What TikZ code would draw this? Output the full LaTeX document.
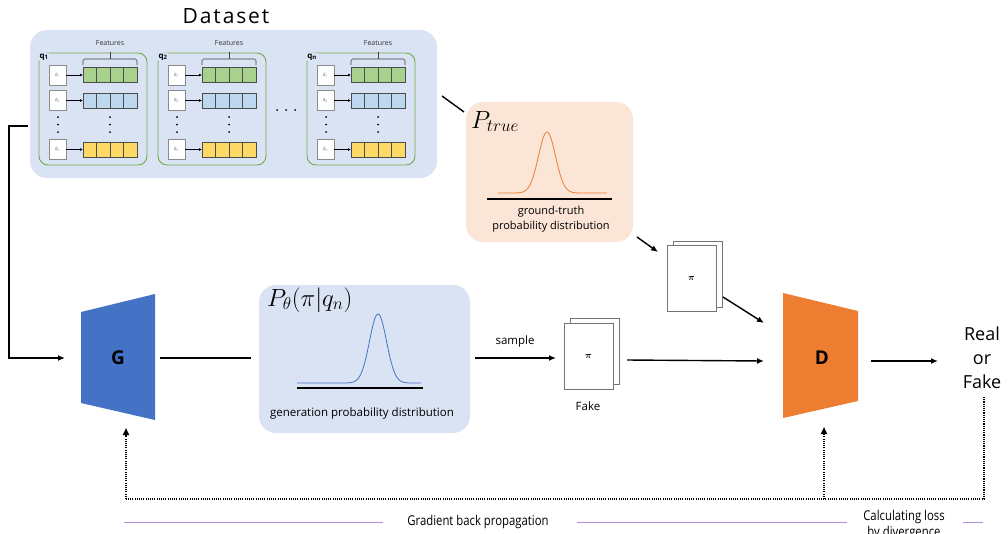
\documentclass[tikz,border=0pt]{standalone}
\usepackage{amsmath}
\usepackage{fontspec}
\setmainfont{Open Sans}
\newfontfamily\condfont[FakeStretch=0.84]{Open Sans}
\usetikzlibrary{arrows.meta}

\definecolor{boxblue}{HTML}{DAE3F3}
\definecolor{peach}{HTML}{FBE5D6}
\definecolor{gblue}{HTML}{4472C4}
\definecolor{dorange}{HTML}{ED7D31}
\definecolor{fgreen}{HTML}{A9D18E}
\definecolor{fblue}{HTML}{BDD7EE}
\definecolor{fyellow}{HTML}{FFD966}
\definecolor{grpgreen}{HTML}{70AD47}
\definecolor{legpurple}{HTML}{B48FE0}

\tikzset{
  ln/.style={line width=1.4pt},
  arr/.style={line width=1.4pt, -{Latex[length=7pt,width=6pt]}},
  smallarr/.style={line width=0.8pt, -{Latex[length=3pt,width=3pt]}},
  fb/.style={line width=1.7pt, dash pattern=on 1.1pt off 1.1pt},
  fbarr/.style={fb, -{Triangle[length=7pt,width=6pt]}},
  dbox/.style={draw=black!45, fill=white, minimum width=17pt, minimum height=20pt,
    inner sep=0pt, font=\fontsize{4.5}{5}\selectfont, text=black!60},
  cell/.style={draw=black!70, line width=0.6pt},
  page/.style={draw=black!55, fill=white, line width=0.8pt, minimum width=49pt,
    minimum height=66pt, inner sep=0pt},
  panel/.style={rounded corners=17pt, inner sep=0pt},
  lbl/.style={font=\fontsize{11.5}{14}\selectfont},
  leg/.style={font=\condfont\fontsize{13.5}{15}\selectfont, inner sep=0pt},
}

\begin{document}
\begin{tikzpicture}[x=1pt, y=-1pt]
\useasboundingbox (0,0) rectangle (1008,533);

% ---------- dataset panel ----------
\node[font=\addfontfeature{LetterSpace=9}\fontsize{21}{24}\selectfont] (dstitle) at (226,16) {Dataset};
\node[panel, fill=boxblue, minimum width=407pt, minimum height=148pt] (dataset) at (233.5,104) {};

\foreach \g/\dx/\q in {1/0/1, 2/119/2, 3/268/n} {
  \begin{scope}[xshift=\dx pt]
    % query group
    \draw[grpgreen, line width=0.9pt, rounded corners=9pt] (39,53) rectangle (147,165);
    \node[fill=boxblue, inner sep=0.8pt, font=\bfseries\fontsize{8}{9}\selectfont]
      (q\g) at (44,57) {q\textsubscript{\q}};
    % feature brace
    \draw[black!75, line width=0.6pt, rounded corners=1.5pt] (83,65) -- (83,59) -- (137,59) -- (137,65);
    \draw[black!75, line width=0.6pt] (110,59) -- (110,52);
    \node[font=\fontsize{7}{8}\selectfont, text=black!80] (feat\g) at (110,43) {Features};
    % documents and feature vectors
    \foreach \r/\yy/\lab/\col in {1/75/1/fgreen, 2/100.5/2/fblue, 3/149.5/n/fyellow} {
      \node[dbox] (d\r-\g) at (57.5,\yy) {d\textsubscript{\lab}};
      \foreach \c in {0,1,2,3} {
        \draw[cell, fill=\col] ({83+13.5*\c},{\yy-7.5}) rectangle ({96.5+13.5*\c},{\yy+7.5});
      }
      \coordinate (bar\r-\g) at (83,\yy);
      \draw[smallarr] (d\r-\g.east) -- (bar\r-\g);
    }
    % vertical ellipses
    \foreach \yy in {117,124.5,132} {
      \fill (58,\yy) circle (1pt);
      \fill (110,\yy) circle (1pt);
    }
  \end{scope}
}
% horizontal ellipsis between groups
\foreach \xx in {277,286,295} { \fill (\xx,110) circle (1pt); }

% ---------- ground-truth distribution ----------
\node[panel, fill=peach, minimum width=167pt, minimum height=140pt] (ptrue) at (549.5,172) {};
\node[anchor=base west, inner sep=0pt, font=\fontsize{23}{26}\selectfont] (ptruelbl) at (471,128) {$P_{true}$};
\draw[dorange, line width=0.8pt] plot[domain=498:607, samples=120]
  (\x, {193 - 61*exp(-((\x-547)^2)/(2*8.5^2))});
\draw[line width=1.6pt] (487,199) -- (612,199);
\node[align=center, font=\fontsize{11}{15}\selectfont] (ptruetxt) at (551,219)
  {ground-truth\\probability distribution};

\coordinate (ds-out) at (442,96);
\coordinate (pt-in) at (464,112);
\draw[ln] (ds-out) -- (pt-in);

% ---------- real sample ----------
\node[page] (realback) at (698,274.5) {};
\node[page] (real) at (691.5,278.5) {\fontsize{9}{9}\selectfont$\boldsymbol{\pi}$};
\coordinate (pt-out) at (637,237);
\coordinate (real-in) at (658,252);
\coordinate (real-out) at (723,297);
\coordinate (D-in1) at (764,323);
\draw[arr] (pt-out) -- (real-in);
\draw[arr] (real-out) -- (D-in1);

% ---------- generator ----------
\fill[gblue] (81,312) -- (155,294) -- (155,420) -- (81,403) -- cycle;
\node[font=\bfseries\fontsize{19}{20}\selectfont] (G) at (118,358) {G};
\coordinate (in-start) at (28,126);
\coordinate (G-in) at (65,358);
\draw[arr] (in-start) -- (9,126) |- (G-in);
\coordinate (G-out) at (160,358);
\coordinate (pth-in) at (251,358);
\draw[ln] (G-out) -- (pth-in);

% ---------- generation distribution ----------
\node[panel, fill=boxblue, minimum width=211pt, minimum height=148pt] (ptheta) at (364.5,359) {};
\node[anchor=base west, inner sep=0pt, font=\fontsize{23}{26}\selectfont] (pthetalbl) at (267,306) {$P_\theta(\pi|q_n)$};
\draw[gblue, line width=0.8pt] plot[domain=297:421, samples=120]
  (\x, {383 - 69*exp(-((\x-378)^2)/(2*8.5^2))});
\draw[line width=1.6pt] (297,388) -- (423,388);
\node[font=\fontsize{11.5}{14}\selectfont] (pthetatxt) at (362,414) {generation probability distribution};

% ---------- fake sample ----------
\coordinate (pth-out) at (475,358);
\coordinate (fake-in) at (556,358);
\draw[arr] (pth-out) -- (fake-in);
\node[lbl] (samplelbl) at (515,342) {sample};
\node[page] (fakeback) at (594.5,351) {};
\node[page] (fake) at (588.5,356) {\fontsize{9}{9}\selectfont$\boldsymbol{\pi}$};
\node[lbl] (fakelbl) at (588,406) {Fake};

% ---------- discriminator ----------
\fill[dorange] (783,293) -- (858,311) -- (858,401) -- (783,418) -- cycle;
\node[font=\bfseries\fontsize{19}{20}\selectfont] (D) at (822,358) {D};
\coordinate (fake-out) at (627,360);
\coordinate (D-in2) at (764,361);
\draw[arr] (fake-out) -- (D-in2);
\coordinate (D-out) at (871,361);
\coordinate (res-in) at (938,361);
\draw[arr] (D-out) -- (res-in);
\node[align=center, font=\fontsize{18}{24}\selectfont] (result) at (982,358) {Real\\or\\Fake};

% ---------- feedback loop ----------
\coordinate (loss-top) at (984,397);
\coordinate (G-fb) at (126,428);
\coordinate (D-fb) at (824,427);
\draw[fb] (loss-top) -- (984,499) -- (126,499);
\draw[fbarr] (126,499) -- (G-fb);
\draw[fbarr] (824,499) -- (D-fb);

% ---------- legend ----------
\draw[legpurple, line width=0.8pt] (124,522) -- (383,522);
\draw[legpurple, line width=0.8pt] (577,522) -- (847,522);
\draw[legpurple, line width=0.8pt] (963,522) -- (983,522);
\node[leg] (gradlbl) at (478,522) {Gradient back propagation};
\node[leg, align=center, font=\condfont\fontsize{13.5}{16}\selectfont] (losslbl) at (904,525)
  {Calculating loss\\by divergence};
\end{tikzpicture}
\end{document}
